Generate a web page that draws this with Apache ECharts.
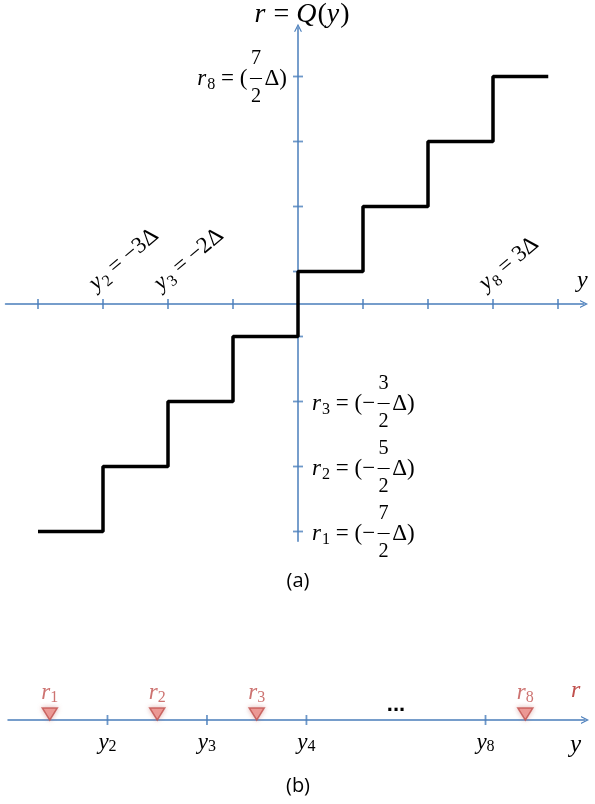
<!DOCTYPE html>
<html>
<head>
<meta charset="utf-8">
<script src="https://cdn.jsdelivr.net/npm/echarts@6/dist/echarts.min.js"></script>
<style>
  html, body { margin: 0; background: #fff; }
  #chart { width: 595px; height: 804px; }
</style>
</head>
<body>
<div id="chart"></div>
<script>
// panel (a): uniform quantizer r = Q(y), values in units of Δ
const stepY = [-4, -3, -2, -1, 0, 1, 2, 3, 3.85];
const stepR = [-3.5, -2.5, -1.5, -0.5, 0.5, 1.5, 2.5, 3.5, 3.5];
const aTicksY = [-4, -3, -2, -1, 1, 2, 3, 4];
const aTicksR = [-3.5, -2.5, -1.5, -0.5, 0.5, 1.5, 2.5, 3.5];
// labelled decision levels on the y axis
const yLabelPos = [-3, -2, 3];
const yLabelIdx = ['2', '3', '8'];
const yLabelVal = ['−3Δ', '−2Δ', '3Δ'];
// labelled reconstruction levels on the r axis
const rLabelPos = [3.5, -1.5, -2.5, -3.5];
const rLabelIdx = ['8', '3', '2', '1'];
const rLabelSign = ['', '−', '−', '−'];
const rLabelNum = ['7', '3', '5', '7'];

// panel (b): 1-D picture of the same levels
const bTicks = [1, 2, 3, 4.8];
const bTickLabels = ['2', '3', '4', '8'];
const bReps = [0.42, 1.5, 2.5, 5.2];
const bRepLabels = ['1', '2', '3', '8'];
const bDots = 3.9;

const AXIS = '#4a7ebb';
const RED = '#c0504d';
const MF = '"Liberation Serif"';
const chevron = 'path://M0,10 L5,0 L10,10 L8.4,10 L5,3 L1.6,10 Z';

const chart = echarts.init(document.getElementById('chart'));

function subRich(color) {
    return {
        i: { fontFamily: MF, fontStyle: 'italic', fontSize: 23, lineHeight: 24, color: color, verticalAlign: 'middle' },
        s: { fontFamily: MF, fontSize: 16, lineHeight: 16, color: color, verticalAlign: 'bottom' }
    };
}

chart.setOption({
    animation: false,
    grid: [
        { left: 5.5, top: 27.75, width: 578.5, height: 513.5 },
        { left: 8, top: 680, width: 577, height: 40 }
    ],
    xAxis: [
        {
            type: 'value', gridIndex: 0, min: -4.5, max: 4.4,
            axisLine: { onZero: true, symbol: ['none', chevron], symbolSize: [13, 8], lineStyle: { color: AXIS, width: 1.5 } },
            axisTick: { show: false }, axisLabel: { show: false }, splitLine: { show: false }
        },
        {
            type: 'value', gridIndex: 1, min: 0, max: 5.8,
            axisLine: { onZero: true, symbol: ['none', chevron], symbolSize: [13, 8], lineStyle: { color: AXIS, width: 1.5 } },
            axisTick: { show: false }, splitLine: { show: false },
            axisLabel: {
                customValues: bTicks,
                margin: 11,
                formatter: v => '{i|y}{s|' + bTickLabels[bTicks.indexOf(v)] + '}',
                rich: subRich('#000')
            }
        }
    ],
    yAxis: [
        {
            type: 'value', gridIndex: 0, min: -3.65, max: 4.25,
            axisLine: { onZero: true, symbol: ['none', chevron], symbolSize: [13, 8], lineStyle: { color: AXIS, width: 1.5 } },
            axisTick: { show: false }, axisLabel: { show: false }, splitLine: { show: false }
        },
        { type: 'value', gridIndex: 1, min: 0, max: 1, show: false }
    ],
    series: [
        {
            type: 'line', xAxisIndex: 0, yAxisIndex: 0, step: 'end', symbol: 'none', z: 5,
            lineStyle: { color: '#000', width: 3.5 },
            data: stepY.map((y, i) => [y, stepR[i]])
        },
        {
            type: 'scatter', xAxisIndex: 0, yAxisIndex: 0, silent: true, symbol: 'rect', symbolSize: [1.8, 10],
            itemStyle: { color: AXIS }, data: aTicksY.map(y => [y, 0])
        },
        {
            type: 'scatter', xAxisIndex: 0, yAxisIndex: 0, silent: true, symbol: 'rect', symbolSize: [10, 1.8],
            itemStyle: { color: AXIS }, data: aTicksR.map(r => [0, r])
        },
        {
            type: 'scatter', xAxisIndex: 1, yAxisIndex: 1, silent: true, symbol: 'rect', symbolSize: [1.8, 10],
            itemStyle: { color: AXIS }, data: bTicks.map(x => [x, 0])
        },
        {
            type: 'scatter', xAxisIndex: 1, yAxisIndex: 1, silent: true, symbol: 'triangle', symbolRotate: 180,
            symbolSize: [15, 12], symbolOffset: [0, -6], z: 6,
            itemStyle: { color: '#f0948e', borderColor: RED, borderWidth: 1.5, shadowBlur: 5, shadowColor: 'rgba(192,80,77,0.45)' },
            label: {
                show: true, position: 'top', distance: 2,
                formatter: p => '{i|r}{s|' + bRepLabels[p.dataIndex] + '}',
                rich: subRich(RED)
            },
            data: bReps.map(x => [x, 0])
        }
    ]
});

// math-style labels: italic letters, subscripts, stacked fractions
const ctx = document.createElement('canvas').getContext('2d');
function font(size, italic) { return (italic ? 'italic ' : '') + size + 'px ' + MF; }
function tw(text, f) { ctx.font = f; return ctx.measureText(text).width; }

function mathGroup(parts, size, color) {
    const children = [];
    let x = 0;
    parts.forEach(p => {
        if (p.num) {
            const f = font(size * 0.88, false);
            const w = Math.max(tw(p.num, f), tw(p.den, f)) + 7;
            children.push({ type: 'text', x: x + w / 2, y: -size * 0.85, style: { text: p.num, font: f, fill: color, align: 'center', verticalAlign: 'middle' } });
            children.push({ type: 'text', x: x + w / 2, y: size * 0.8, style: { text: p.den, font: f, fill: color, align: 'center', verticalAlign: 'middle' } });
            children.push({ type: 'line', shape: { x1: x + 2.5, y1: 0, x2: x + w - 2.5, y2: 0 }, style: { stroke: color, lineWidth: 1 } });
            x += w;
        } else {
            const sub = p[1] === 's';
            const f = font(sub ? size * 0.7 : size, p[1] === 'i');
            children.push({ type: 'text', x: x, y: sub ? size * 0.28 : 0, style: { text: p[0], font: f, fill: color, align: 'left', verticalAlign: 'middle' } });
            x += tw(p[0], f) + (p[1] === 'i' ? 1 : 0);
        }
    });
    return { children, width: x };
}

const g = [];
const px = (v) => chart.convertToPixel({ gridIndex: 0 }, v);
const pb = (v) => chart.convertToPixel({ gridIndex: 1 }, v);

// title of the vertical axis
let m = mathGroup([['r', 'i'], [' = ', 'n'], ['Q', 'i'], ['(', 'n'], ['y', 'i'], [')', 'n']], 28, '#000');
g.push({ type: 'group', x: 302 - m.width / 2, y: 15, children: m.children });

// rotated labels on the y axis
yLabelPos.forEach((v, i) => {
    const p = px([v, 0]);
    const mg = mathGroup([['y', 'i'], [yLabelIdx[i], 's'], [' = ' + yLabelVal[i], 'n']], 23, '#000');
    g.push({ type: 'group', x: p[0] - 11, y: p[1] - 18, rotation: 40 * Math.PI / 180, children: mg.children });
});
m = mathGroup([['y', 'i']], 24, '#000');
g.push({ type: 'group', x: 577, y: 281, children: m.children });

// reconstruction levels on the r axis
rLabelPos.forEach((v, i) => {
    const p = px([0, v]);
    const mg = mathGroup([['r', 'i'], [rLabelIdx[i], 's'], [' = (' + rLabelSign[i], 'n'], { num: rLabelNum[i], den: '2' }, ['Δ)', 'n']], 23, '#000');
    const x0 = v > 0 ? p[0] - 11 - mg.width : p[0] + 14;
    g.push({ type: 'group', x: x0, y: p[1] + 2, children: mg.children });
});

// panel (b) extras
const d = pb([bDots, 0]);
g.push({ type: 'text', x: d[0], y: d[1] - 15, style: { text: '...', font: 'bold 22px "Liberation Sans"', fill: '#000', align: 'center', verticalAlign: 'middle' } });
m = mathGroup([['r', 'i']], 24, RED);
g.push({ type: 'group', x: 571, y: 691, children: m.children });
m = mathGroup([['y', 'i']], 25, '#000');
g.push({ type: 'group', x: 570, y: 745, children: m.children });

g.push({ type: 'text', x: 298, y: 581, style: { text: '(a)', font: '20px "Open Sans"', fill: '#000', align: 'center', verticalAlign: 'middle' } });
g.push({ type: 'text', x: 298, y: 786, style: { text: '(b)', font: '20px "Open Sans"', fill: '#000', align: 'center', verticalAlign: 'middle' } });

chart.setOption({ graphic: g });
</script>
</body>
</html>
